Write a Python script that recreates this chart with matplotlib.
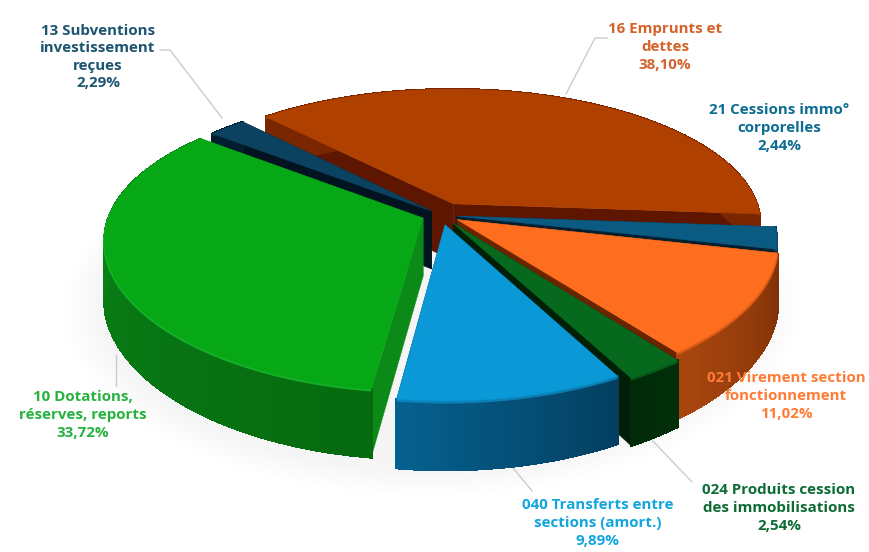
import numpy as np
import matplotlib
matplotlib.use("Agg")
import matplotlib.pyplot as plt
from matplotlib.colors import to_rgb

# ---- data ----
names = ["16 Emprunts et\ndettes", "21 Cessions immo°\ncorporelles",
         "021 Virement section\nfonctionnement", "024 Produits cession\ndes immobilisations",
         "040 Transferts entre\nsections (amort.)", "10 Dotations,\nréserves, reports",
         "13 Subventions\ninvestissement\nreçues"]
values = [38.10, 2.44, 11.02, 2.54, 9.89, 33.72, 2.29]

# ---- style ----
top_col = ["#B04000", "#0A5A82", "#FF6E1E", "#06691E", "#0A98D6", "#06A816", "#0A4260"]
wall_a = ["#7A2600", "#02344F", "#7E3006", "#022F0A", "#033F60", "#0A8A18", "#021E2E"]
wall_b = ["#7A2600", "#02344F", "#A8460F", "#012A08", "#06608F", "#066A10", "#021E2E"]
face_col = ["#5E1600", "#021F30", "#6A2400", "#011E06", "#02304A", "#0B8A18", "#01141F"]
rim_col = ["#B04000", "#0A5A82", "#E8601A", "#06691E", "#0C8CC4", "#18C02C", "#0A4260"]
txt_col = ["#D4622A", "#0E6C92", "#FF7C36", "#0C6C34", "#12A6DE", "#26B23E", "#1D5570"]
explode = [0.09, 0.05, 0.06, 0.07, 0.07, 0.06, 0.04]
radius = [0.96, 0.985, 0.985, 1.0, 0.98, 0.98, 0.97]
label_xy = [(665, 47), (779, 128), (786, 396), (779, 508), (598, 523), (83, 415), (98, 57)]
leaders = [[(607, 38), (595, 38), (566, 94)], [], [], [(648, 436), (692, 482)],
           [(513, 468), (532, 491)], [(116, 355), (116, 386)],
           [(160, 50), (170, 50), (222, 118)]]

CX, CY, R, RY, P, H, Q = 441, 215, 320, 140, 0.153, 58, 10
START = -42.8

fig = plt.figure(figsize=(8.69, 5.52), dpi=100)
ax = fig.add_axes([0, 0, 1, 1])
ax.set_xlim(0, 869)
ax.set_ylim(552, 0)
ax.axis("off")


def proj(u, v, z=0.0):
    u, v = np.asarray(u, float), np.asarray(v, float)
    s = 1 / (1 - P * v)
    return CX + R * u * s, CY + RY * v * s + Q * np.maximum(v, 0) ** 2 + H * z * s


# soft shadow
th = np.linspace(0, 2 * np.pi, 200)
for k in range(10):
    x, y = proj((1.02 + .012 * k) * np.sin(th) - .03, (1.02 + .012 * k) * -np.cos(th) + .03, 1.0)
    ax.fill(x, y, color="#808080", alpha=.006, lw=0, zorder=1)

frac = np.array(values) / sum(values) * 360
starts = START + np.concatenate(([0], np.cumsum(frac)[:-1]))
mids = starts + frac / 2
order = np.argsort(-np.cos(np.radians(mids)))

for z, i in enumerate(order):
    t = np.radians(np.linspace(starts[i], starts[i] + frac[i], 40))
    m = np.radians(mids[i])
    ou, ov = explode[i] * np.sin(m), -explode[i] * np.cos(m)
    u, v = ou + radius[i] * np.sin(t), ov - radius[i] * np.cos(t)
    zo = 2 + z
    # radial faces
    for j in (0, -1):
        su, sv = np.array([ou, u[j]]), np.array([ov, v[j]])
        xa, ya = proj(su, sv)
        xb, yb = proj(su, sv, 1)
        ax.fill([*xa, *xb[::-1]], [*ya, *yb[::-1]], color=face_col[i], lw=.3, zorder=zo)
    # outer wall with a gradient
    xa, ya = proj(u, v)
    xb, yb = proj(u, v, 1)
    ca, cb = np.array(to_rgb(wall_a[i])), np.array(to_rgb(wall_b[i]))
    for k in range(len(t) - 1):
        f = k / (len(t) - 2)
        c = ca + (cb - ca) * (1 - f if i == 5 else f)
        ax.fill([xa[k], xa[k + 1], xb[k + 1], xb[k]], [ya[k], ya[k + 1], yb[k + 1], yb[k]],
                color=c, lw=1.2, antialiased=False, zorder=zo)
    # rim highlight, top surface
    ax.plot(xa, ya + 1.2, color=rim_col[i], lw=2, alpha=.8, zorder=zo, solid_capstyle="butt")
    x0, y0 = proj(ou, ov)
    ax.fill([x0, *xa], [y0, *ya], color=top_col[i], lw=.4, zorder=zo)

# leader lines
for pts in leaders:
    if pts:
        ax.plot(*zip(*pts), color="#CCCCCC", lw=1, zorder=1.5)

# labels
for i, (lab, (x, y)) in enumerate(zip(names, label_xy)):
    pct = f"{values[i]:.2f}%".replace(".", ",")
    ax.text(x, y, f"{lab}\n{pct}", color=txt_col[i], ha="center", va="center",
            family="Open Sans", weight="bold", fontsize=10.9, linespacing=1.33, zorder=30)

fig.savefig("out.png", dpi=100, facecolor="white")
